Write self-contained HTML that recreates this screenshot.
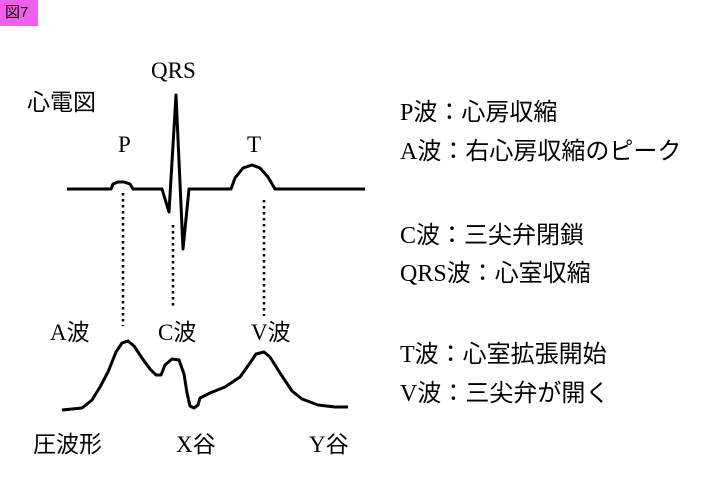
<!DOCTYPE html>
<html><head><meta charset="utf-8"><style>
body{margin:0;width:720px;height:480px;background:#fff;position:relative;overflow:hidden;font-family:"Liberation Serif","Noto Sans CJK JP",serif;}
.t{position:absolute;font-size:23px;color:#000;white-space:nowrap;line-height:1;}
.r{font-size:24px;}
.s{font-family:"Liberation Sans","Noto Sans CJK JP",sans-serif;}
</style></head><body>
<div style="position:absolute;left:0;top:0;width:38px;height:26px;background:#f060f0;"></div>
<div class="t s" style="left:5px;top:5px;font-size:15px;">図7</div>
<svg width="720" height="480" style="position:absolute;left:0;top:0" fill="none" stroke="#000">
<polyline stroke-width="3" stroke-linejoin="round" points="67,189 111,189 113,184 118,182 124,182 130,184 133,189 162,189 169,212 176,95 183,249 189,189 231,189 235,178 243,168 252,165 260,168 268,177 275,189 365,189"/>
<g stroke-width="2.5" stroke-dasharray="2.5,3.5">
<line x1="123" y1="193" x2="123" y2="326"/>
<line x1="173" y1="225" x2="173" y2="307"/>
<line x1="264" y1="200" x2="264" y2="316"/>
</g>
<polyline stroke-width="3" stroke-linejoin="round" points="62,410 82,408 92,400 100,387 108,372 116,352 122,343 128,341 134,346 142,358 150,369 156,375 161,375 165,365 172,359 179,360 184,374 187,393 190,406 194,408 198,405 200,398 210,393 225,387 240,377 250,363 256,354 264,352 270,357 280,373 292,391 302,399 318,405 335,407 348,407"/>
</svg>
<div class="t" style="left:151px;top:59px;">QRS</div>
<div class="t s" style="left:27px;top:91px;">心電図</div>
<div class="t" style="left:118px;top:133px;">P</div>
<div class="t" style="left:247px;top:133px;">T</div>
<div class="t" style="left:50px;top:321px;">A波</div>
<div class="t" style="left:158px;top:321px;">C波</div>
<div class="t" style="left:251px;top:321px;">V波</div>
<div class="t s" style="left:33px;top:433px;">圧波形</div>
<div class="t" style="left:176px;top:433px;">X谷</div>
<div class="t" style="left:309px;top:433px;">Y谷</div>
<div class="t r" style="left:400px;top:101px;">P波：心房収縮</div>
<div class="t r" style="left:400px;top:140px;">A波：右心房収縮のピーク</div>
<div class="t r" style="left:400px;top:224px;">C波：三尖弁閉鎖</div>
<div class="t r" style="left:400px;top:262px;">QRS波：心室収縮</div>
<div class="t r" style="left:400px;top:343px;">T波：心室拡張開始</div>
<div class="t r" style="left:400px;top:382px;">V波：三尖弁が開く</div>
</body></html>
